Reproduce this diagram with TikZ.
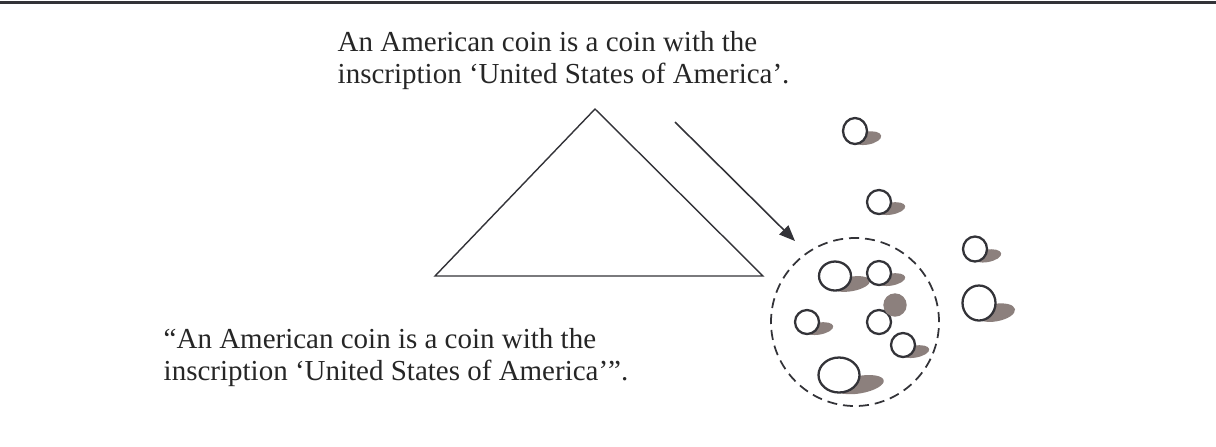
\documentclass[tikz,border=0pt]{standalone}
\usepackage{fontspec}
\setmainfont{Liberation Serif}
\usetikzlibrary{shapes.geometric,arrows.meta}
\definecolor{inkgray}{RGB}{51,51,56}
\definecolor{shadowgray}{RGB}{140,128,125}

\begin{document}
\begin{tikzpicture}[
  coin/.style={ellipse,draw=inkgray,line width=0.65pt,fill=white,inner sep=0pt},
  coinshadow/.style={fill=shadowgray},
  caption/.style={anchor=north west,inner sep=0pt,align=left,text=black!85,
                  font=\fontsize{8.25pt}{9.1pt}\selectfont},
]
\useasboundingbox (0,0) rectangle (12.16,4.46);

% Rule across the top
\draw[inkgray,line width=0.6pt] (0,4.435) -- (12.16,4.435);

% Definition, used and mentioned
\node[caption] (usetext) at (3.37,4.15)
  {An American coin is a coin with the\\inscription ‘United States of America’.};
\node[caption] (mentiontext) at (1.63,1.18)
  {“An American coin is a coin with the\\inscription ‘United States of America’”.};

% Triangle
\draw[inkgray,line width=0.4pt] (4.35,1.70) -- (5.95,3.37) -- (7.63,1.70) -- cycle;

% Extension: the American coins
\node[circle,draw=inkgray,dash pattern=on 2.85pt off 1.7pt,line width=0.5pt,
      minimum size=1.68cm] (extension) at (8.55,1.24) {};

% Arrow towards the extension
\coordinate (arrowtail) at (6.75,3.24);
\coordinate (arrowtip) at (7.95,2.05);
\draw[inkgray,line width=0.45pt,-{Triangle[length=4.5pt,width=3.6pt]}]
  (arrowtail) -- (arrowtip);

% Coins with their shadows
\foreach \i/\x/\y/\rx/\ry in {1/8.55/3.15/0.12/0.13, 2/8.79/2.44/0.12/0.12,
    3/9.75/1.97/0.12/0.125, 4/9.79/1.43/0.165/0.175, 5/8.35/1.70/0.16/0.145,
    6/8.79/1.73/0.12/0.12, 8/8.07/1.24/0.12/0.12, 10/9.03/1.01/0.12/0.12,
    11/8.39/0.71/0.205/0.175}{
  \fill[coinshadow,rotate around={10:(\x+\rx,\y-0.55*\ry)}]
    (\x+\rx,\y-0.55*\ry) ellipse [x radius=1.2*\rx, y radius=0.5*\ry];
  \node[coin,minimum width=\rx*2cm,minimum height=\ry*2cm] (coin\i) at (\x,\y) {};
}
\node[coin,minimum width=0.24cm,minimum height=0.24cm] (coin9) at (8.79,1.24) {};
\node[circle,fill=shadowgray,inner sep=0pt,minimum size=0.234cm] (graycoin) at (8.95,1.41) {};

\end{tikzpicture}
\end{document}
